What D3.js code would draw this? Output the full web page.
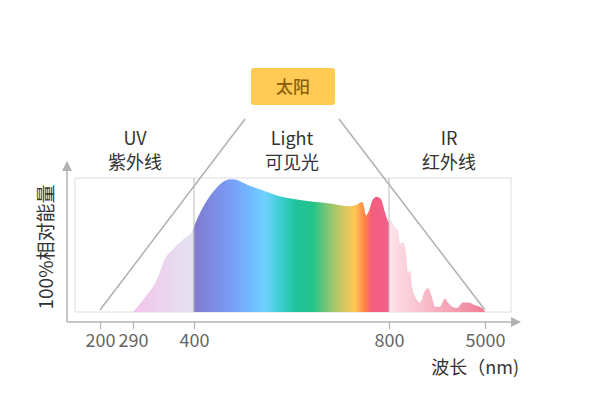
<!DOCTYPE html>
<html>
<head>
<meta charset="utf-8">
<script src="https://cdn.jsdelivr.net/npm/d3@7"></script>
<style>
  body { margin: 0; background: #fff; }
  svg { display: block; font-family: "Noto Sans CJK SC", "Noto Sans", sans-serif; }
</style>
</head>
<body>
<svg id="chart" width="596" height="418"></svg>
<script>
// wavelength (nm) and relative energy (%)
const wavelengths = [290, 312, 333, 348, 360, 380, 396, 400, 418, 447, 474, 480, 509, 539, 570, 611, 679, 720, 734, 745, 747, 753, 757, 767, 775, 784, 792, 800,
    844, 1063, 1194, 1281, 1412, 1544, 1631, 1719, 1806, 2025, 2156, 2375, 2506, 2681, 2813, 3031, 3250, 3381, 3556, 3775, 4038, 4256, 4563, 4869, 5000];
const energy = [0, 11, 24, 40, 46, 54, 60, 64, 78, 93, 99, 99, 95, 91, 87, 84, 81, 79, 80, 82, 81, 72, 74, 84, 86, 84, 74, 67,
    69, 63, 61, 51, 52, 44, 29, 31, 19, 9, 7, 16, 18, 11, 4, 4, 10, 7, 4, 3, 7, 7, 5, 3, 0];

const tickValues = [200, 290, 400, 800, 5000];
const dividers = [400, 800];

const bands = [
    { en: "UV", zh: "紫外线" },
    { en: "Light", zh: "可见光" },
    { en: "IR", zh: "红外线" }
];

// gradient stops along the wavelength axis
const stopNm = [290, 380, 398, 400, 474, 515, 546, 576, 607, 644, 679, 714, 730, 751, 765, 800, 801, 5000];
const stopColors = ["#f3c3ea", "#e6def0", "#e4e0f0", "#7d7acb", "#7a9cf7", "#70b9ff", "#6fd2fc", "#3fcfd6", "#1fc39c",
    "#22c38a", "#8fc66f", "#e3c65e", "#ffc653", "#ff8247", "#f45d80", "#f2608a", "#fde3ea", "#f07c95"];

const svg = d3.select("#chart");
const box = { left: 75, right: 511, top: 178, bottom: 312 };
const axisX = 67, axisY = 322;

// piecewise scale: the axis is not linear, each labelled wavelength has its own spot
const x = d3.scaleLinear()
    .domain(tickValues)
    .range([100, 133, 194, 389, 485]);
const y = d3.scaleLinear()
    .domain([0, 100])
    .range([box.bottom, box.top]);

const defs = svg.append("defs");
const grad = defs.append("linearGradient")
    .attr("id", "spectrum")
    .attr("gradientUnits", "userSpaceOnUse")
    .attr("x1", x(290)).attr("x2", x(5000))
    .attr("y1", 0).attr("y2", 0);
grad.selectAll("stop")
    .data(stopNm)
    .join("stop")
    .attr("offset", d => (x(d) - x(290)) / (x(5000) - x(290)))
    .attr("stop-color", (d, i) => stopColors[i]);

defs.append("marker")
    .attr("id", "arrow")
    .attr("viewBox", "0 0 10 10")
    .attr("refX", 9).attr("refY", 5)
    .attr("markerWidth", 10).attr("markerHeight", 10)
    .attr("markerUnits", "userSpaceOnUse")
    .attr("orient", "auto")
    .append("path")
    .attr("d", "M0,0L10,5L0,10Z")
    .attr("fill", "#b3b3b3");

// light frame
svg.append("rect")
    .attr("x", box.left).attr("y", box.top)
    .attr("width", box.right - box.left).attr("height", box.bottom - box.top)
    .attr("fill", "none")
    .attr("stroke", "#dedede");

const data = wavelengths.map((w, i) => ({ w, e: energy[i] }));

const area = d3.area()
    .x(d => x(d.w))
    .y0(y(0))
    .y1(d => y(d.e))
    .curve(d3.curveMonotoneX);

svg.append("path")
    .datum(data)
    .attr("d", area)
    .attr("fill", "url(#spectrum)");

svg.selectAll(".divider")
    .data(dividers)
    .join("line")
    .attr("class", "divider")
    .attr("x1", d => x(d)).attr("x2", d => x(d))
    .attr("y1", box.top).attr("y2", box.bottom)
    .attr("stroke", "#bdbdbd");

// axes with arrows
svg.append("line")
    .attr("x1", axisX).attr("y1", axisY)
    .attr("x2", axisX).attr("y2", 162)
    .attr("stroke", "#b3b3b3").attr("stroke-width", 1.5)
    .attr("marker-end", "url(#arrow)");
svg.append("line")
    .attr("x1", axisX).attr("y1", axisY)
    .attr("x2", 520).attr("y2", axisY)
    .attr("stroke", "#b3b3b3").attr("stroke-width", 1.5)
    .attr("marker-end", "url(#arrow)");

const xAxis = svg.append("g")
    .attr("transform", `translate(0,${axisY})`)
    .call(d3.axisBottom(x).tickValues(tickValues).tickSize(7).tickPadding(5).tickFormat(d3.format("d")));
xAxis.select(".domain").remove();
xAxis.selectAll(".tick line").attr("stroke", "#b3b3b3").attr("stroke-width", 1.2);
xAxis.selectAll(".tick text")
    .attr("fill", "#666")
    .style("font-size", "18px")
    .style("font-family", "'Noto Sans CJK SC', sans-serif");

svg.append("text")
    .attr("x", 519).attr("y", 374)
    .attr("text-anchor", "end")
    .attr("fill", "#333")
    .style("font-size", "18px")
    .text("波长（nm)");

svg.append("text")
    .attr("transform", `translate(53,${(box.top + box.bottom) / 2 + 2}) rotate(-90)`)
    .attr("text-anchor", "middle")
    .attr("fill", "#333")
    .style("font-size", "19px")
    .text("100%相对能量");

// the sun and the two rays
const sun = { x: 251, y: 68, w: 84, h: 37 };
svg.append("rect")
    .attr("x", sun.x).attr("y", sun.y)
    .attr("width", sun.w).attr("height", sun.h)
    .attr("rx", 3)
    .attr("fill", "#ffcb55");
svg.append("text")
    .attr("x", sun.x + sun.w / 2).attr("y", sun.y + sun.h / 2 + 6)
    .attr("text-anchor", "middle")
    .attr("fill", "#8c5d0a")
    .style("font-size", "17px")
    .style("font-weight", 500)
    .text("太阳");

svg.append("line")
    .attr("x1", x(200)).attr("y1", 310)
    .attr("x2", 245).attr("y2", 119)
    .attr("stroke", "#b0b0b0").attr("stroke-width", 1.5);
svg.append("line")
    .attr("x1", 339).attr("y1", 119)
    .attr("x2", x(5000)).attr("y2", 310)
    .attr("stroke", "#b0b0b0").attr("stroke-width", 1.5);

const labelX = [135, 292, 449];
const labels = svg.selectAll(".band")
    .data(bands)
    .join("g")
    .attr("class", "band")
    .attr("transform", (d, i) => `translate(${labelX[i]},0)`);
labels.append("text")
    .attr("y", 145)
    .attr("text-anchor", "middle")
    .attr("fill", "#333")
    .style("font-size", "18px")
    .text(d => d.en);
labels.append("text")
    .attr("y", 169)
    .attr("text-anchor", "middle")
    .attr("fill", "#333")
    .style("font-size", "18px")
    .text(d => d.zh);
</script>
</body>
</html>
